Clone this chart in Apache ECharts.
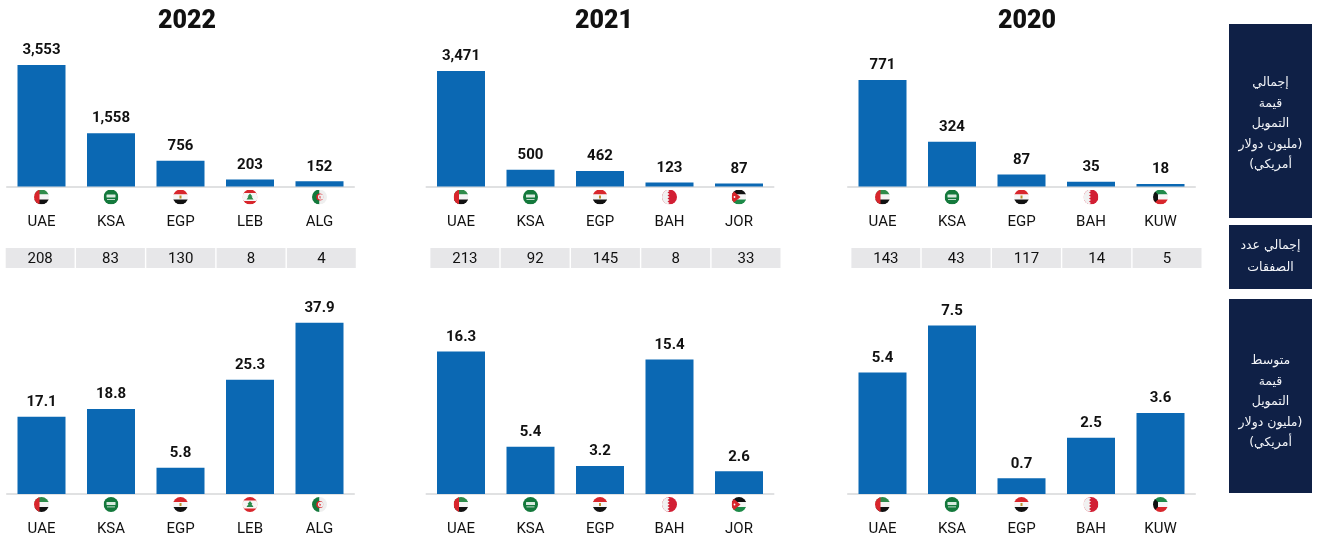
<!DOCTYPE html>
<html><head><meta charset="utf-8">
<style>html,body{margin:0;padding:0;background:#fff}#c{width:1318px;height:537px}</style>
<script src="https://cdn.jsdelivr.net/npm/echarts@6/dist/echarts.min.js"></script>
</head><body><div id="c"></div>
<script>
const years = ['2022', '2021', '2020'];
const codes2022 = ['UAE', 'KSA', 'EGP', 'LEB', 'ALG'];
const codes2021 = ['UAE', 'KSA', 'EGP', 'BAH', 'JOR'];
const codes2020 = ['UAE', 'KSA', 'EGP', 'BAH', 'KUW'];
const funding2022 = [3553, 1558, 756, 203, 152];
const funding2021 = [3471, 500, 462, 123, 87];
const funding2020 = [771, 324, 87, 35, 18];
const deals2022 = [208, 83, 130, 8, 4];
const deals2021 = [213, 92, 145, 8, 33];
const deals2020 = [143, 43, 117, 14, 5];
const average2022 = [17.1, 18.8, 5.8, 25.3, 37.9];
const average2021 = [16.3, 5.4, 3.2, 15.4, 2.6];
const average2020 = [5.4, 7.5, 0.7, 2.5, 3.6];
const sideLabels = [
  'إجمالي\nقيمة\nالتمويل\n\u200F(مليون دولار\nأمريكي)\u200F',
  'إجمالي عدد\nالصفقات',
  'متوسط\nقيمة\nالتمويل\n\u200F(مليون دولار\nأمريكي)\u200F'
];

const C = {
  bar: '#0b68b3', ink: '#111111', axis: '#d6d7d9', cell: '#e7e7e9', box: '#0f2046',
  sans: 'Roboto, "Liberation Sans", sans-serif'
};
const panels = [
  {year: years[0], codes: codes2022, funding: funding2022, deals: deals2022, avg: average2022, left: 6.75, cellLeft: 5, titleX: 182, maxF: 4284, maxA: 42.95},
  {year: years[1], codes: codes2021, funding: funding2021, deals: deals2021, avg: average2021, left: 426.25, cellLeft: 429.7, titleX: 599, maxF: 4402, maxA: 22.2},
  {year: years[2], codes: codes2020, funding: funding2020, deals: deals2020, avg: average2020, left: 847.75, cellLeft: 850.7, titleX: 1022, maxF: 1061, maxA: 8.63}
];

function circle(inner) {
  const svg = `<svg xmlns="http://www.w3.org/2000/svg" width="60" height="60" viewBox="0 0 30 30"><defs><clipPath id="k"><circle cx="15" cy="15" r="15"/></clipPath></defs><g clip-path="url(#k)">${inner}</g></svg>`;
  return 'data:image/svg+xml;charset=utf-8,' + encodeURIComponent(svg);
}
const stripes = (a, b, c) => `<rect width="30" height="10" fill="${a}"/><rect y="10" width="30" height="10" fill="${b}"/><rect y="20" width="30" height="10" fill="${c}"/>`;
const flags = {
  UAE: circle(stripes('#2e8b4a', '#f4f4f4', '#111') + '<rect width="11" height="30" fill="#d8262c"/>'),
  KSA: circle('<rect width="30" height="30" fill="#14793c"/><rect x="6" y="10" width="18" height="6" rx="1" fill="#d9eadf"/><rect x="7" y="19" width="16" height="1.6" fill="#e8f2ec"/>'),
  EGP: circle(stripes('#d8262c', '#f6f6f6', '#111') + '<rect x="13" y="12" width="4" height="6" fill="#b8912f"/>'),
  LEB: circle('<rect width="30" height="30" fill="#d8262c"/><rect y="7" width="30" height="16" fill="#f6f6f6"/><path d="M15 8 20 14H18L22 20H8L12 14H10Z" fill="#2c8a4b"/>'),
  ALG: circle('<rect width="15" height="30" fill="#14793c"/><rect x="15" width="15" height="30" fill="#efefef"/><circle cx="15.5" cy="15" r="7" fill="#d8262c"/><circle cx="17.5" cy="15" r="5.6" fill="#efefef"/><path d="M15 12l1 2.2 2.4.2-1.8 1.6.6 2.4-2.2-1.3z" fill="#d8262c"/>'),
  BAH: circle('<rect width="30" height="30" fill="#d21f34"/><path d="M0 0H11L15 3 11 6 15 9 11 12 15 15 11 18 15 21 11 24 15 27 11 30H0Z" fill="#f1f1f1"/>'),
  JOR: circle(stripes('#111', '#f6f6f6', '#1d8a48') + '<path d="M0 0 18 15 0 30Z" fill="#d8262c"/><circle cx="6" cy="15" r="1.8" fill="#fff"/>'),
  KUW: circle(stripes('#1f8a4a', '#f6f6f6', '#d8262c') + '<path d="M0 0 10 10V20L0 30Z" fill="#111"/>')
};

const rich = {c: {fontFamily: C.sans, fontSize: 15, color: C.ink, lineHeight: 25, align: 'center', verticalAlign: 'bottom'}};
Object.keys(flags).forEach(k => { rich['f' + k] = {width: 15, height: 15, lineHeight: 15, align: 'center', backgroundColor: {image: flags[k]}}; });

const grid = [], xAxis = [], yAxis = [], series = [], title = [];

function barPanel(codes, values, left, top, height, max, fmt) {
  const i = grid.length;
  grid.push({left, width: 347.5, top, height});
  xAxis.push({
    type: 'category', gridIndex: i, data: codes,
    axisLine: {lineStyle: {color: C.axis, width: 1.5}}, axisTick: {show: false},
    axisLabel: {interval: 0, margin: 3, rich, formatter: v => `{f${v}|}\n{c|${v}}`}
  });
  yAxis.push({type: 'value', gridIndex: i, min: 0, max, show: false, splitLine: {show: false}});
  series.push({
    type: 'bar', xAxisIndex: i, yAxisIndex: i, data: values, barWidth: 48, animation: false, silent: true,
    itemStyle: {color: C.bar},
    label: {show: true, position: 'top', distance: 7, color: C.ink, fontFamily: C.sans, fontWeight: 700, fontSize: 15, formatter: fmt}
  });
}
function cellPanel(codes, deals, left) {
  const i = grid.length;
  grid.push({left, width: 351.5, top: 248, height: 20});
  xAxis.push({type: 'category', gridIndex: i, data: codes, show: false});
  yAxis.push({type: 'value', gridIndex: i, min: 0, max: 1, show: false, splitLine: {show: false}});
  series.push({
    type: 'custom', xAxisIndex: i, yAxisIndex: i, animation: false, silent: true,
    data: deals.map((d, k) => [k, d]), encode: {x: 0, y: -1},
    renderItem(params, api) {
      const w = api.size([1, 0])[0];
      const cx = api.coord([api.value(0), 0])[0];
      const r = params.coordSys;
      return {type: 'group', children: [
        {type: 'rect', shape: {x: cx - w / 2 + 0.7, y: r.y, width: w - 1.4, height: r.height}, style: {fill: C.cell}},
        {type: 'text', style: {text: String(api.value(1)), x: cx, y: r.y + r.height / 2 + 1, textAlign: 'center', textVerticalAlign: 'middle', fontFamily: C.sans, fontSize: 15, fill: C.ink}}
      ]};
    }
  });
}

panels.forEach(p => {
  title.push({text: p.year, left: p.titleX, top: 4, textAlign: 'center', textStyle: {fontFamily: C.sans, fontWeight: 900, fontSize: 25, color: C.ink}});
  barPanel(p.codes, p.funding, p.left, 40, 146.5, p.maxF, o => o.value.toLocaleString('en-US'));
  cellPanel(p.codes, p.deals, p.cellLeft);
  barPanel(p.codes, p.avg, p.left, 300, 195, p.maxA, o => o.value.toFixed(1));
});

const boxes = [[24, 194, 124], [225, 64, 257], [299, 194, 402]];
const graphic = [];
boxes.forEach((b, i) => {
  graphic.push({type: 'rect', left: 1229, top: b[0], shape: {width: 83, height: b[1]}, style: {fill: C.box}, silent: true});
  graphic.push({type: 'text', x: 1270.5, y: b[2], silent: true, style: {
    text: sideLabels[i], textAlign: 'center', textVerticalAlign: 'middle',
    fontFamily: '"DejaVu Sans", sans-serif', fontSize: 12.5, lineHeight: i === 1 ? 22 : 20.5, fill: '#f2f4f8'
  }});
});

const chart = echarts.init(document.getElementById('c'), null, {renderer: 'canvas'});
chart.setOption({animation: false, backgroundColor: '#fff', title, grid, xAxis, yAxis, series, graphic});
</script></body></html>
